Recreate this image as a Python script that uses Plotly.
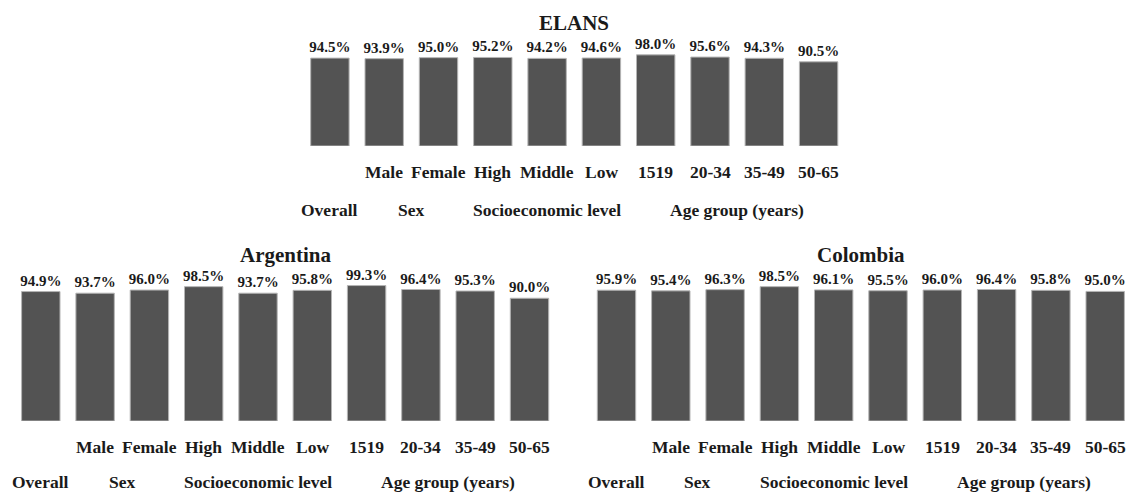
import plotly.graph_objects as go

# ---------------- data ----------------
categories = ["Overall", "Male", "Female", "High", "Middle", "Low",
              "1519", "20-34", "35-49", "50-65"]
tick_labels = ["", "Male", "Female", "High", "Middle", "Low",
               "1519", "20-34", "35-49", "50-65"]
group_names = ["Overall", "Sex", "Socioeconomic level", "Age group (years)"]
group_sizes = [1, 2, 3, 4]

panel_titles = ["ELANS", "Argentina", "Colombia"]
elans = [94.5, 93.9, 95.0, 95.2, 94.2, 94.6, 98.0, 95.6, 94.3, 90.5]
argentina = [94.9, 93.7, 96.0, 98.5, 93.7, 95.8, 99.3, 96.4, 95.3, 90.0]
colombia = [95.9, 95.4, 96.3, 98.5, 96.1, 95.5, 96.0, 96.4, 95.8, 95.0]
series = [elans, argentina, colombia]

# ---------------- layout helpers ----------------
W, H = 1127, 493
FONT = "Liberation Serif"
TXT = "#1a1a1a"

def px_x(p):
    return p / W

def px_y(p):
    return (H - p) / H

# panel geometry in page pixels
panels = [
    dict(xl=302.75, xr=845.75, yb=146.0, k=0.93, title_y=23, r1=171.7, r2=210.0),
    dict(xl=13.65, xr=556.65, yb=421.0, k=1.364, title_y=255, r1=446.7, r2=481.5),
    dict(xl=589.35, xr=1132.35, yb=421.0, k=1.364, title_y=255, r1=446.7, r2=481.5),
]

idx = list(range(len(categories)))
fig = go.Figure()
annotations = []

for i, (vals, p, ttl) in enumerate(zip(series, panels, panel_titles)):
    n = i + 1
    xa = "x" if n == 1 else f"x{n}"
    ya = "y" if n == 1 else f"y{n}"
    fig.add_trace(go.Bar(
        x=idx, y=vals, xaxis=xa, yaxis=ya,
        marker=dict(color="#535353", line=dict(color="#b4b4b4", width=1)),
        text=[f"{v:.1f}%" for v in vals],
        textposition="outside",
        textfont=dict(family=FONT, size=15, color=TXT, weight="bold"),
        constraintext="none",
        cliponaxis=False,
        showlegend=False,
        hoverinfo="skip",
    ))
    xr = min(p["xr"], W)
    cat_w = (p["xr"] - p["xl"]) / len(categories)
    xmax = 9.5 - (p["xr"] - xr) / cat_w
    top_px = p["yb"] - 100 * p["k"]
    xkey = "xaxis" if n == 1 else f"xaxis{n}"
    ykey = "yaxis" if n == 1 else f"yaxis{n}"
    fig.update_layout(**{
        xkey: dict(domain=[px_x(p["xl"]), px_x(xr)], range=[-0.5, xmax],
                   anchor=ya, visible=False, fixedrange=True),
        ykey: dict(domain=[px_y(p["yb"]), px_y(top_px)], range=[0, 100],
                   anchor=xa, visible=False, fixedrange=True),
    })
    annotations.append(dict(
        text=f"<b>{ttl}</b>", xref=xa, yref="paper", x=4.5, y=px_y(p["title_y"]),
        xanchor="center", yanchor="middle", showarrow=False,
        font=dict(family=FONT, size=21, color=TXT)))
    for j, lab in enumerate(tick_labels):
        if lab:
            annotations.append(dict(
                text=f"<b>{lab}</b>", xref=xa, yref="paper", x=j, y=px_y(p["r1"]),
                xanchor="center", yanchor="middle", showarrow=False,
                font=dict(family=FONT, size=17.5, color=TXT)))
    start = 0
    for g, size in zip(group_names, group_sizes):
        centre = start + (size - 1) / 2
        annotations.append(dict(
            text=f"<b>{g}</b>", xref=xa, yref="paper", x=centre, y=px_y(p["r2"]),
            xanchor="center", yanchor="middle", showarrow=False,
            font=dict(family=FONT, size=17.5, color=TXT)))
        start += size

fig.update_layout(
    width=W, height=H,
    margin=dict(l=0, r=0, t=0, b=0),
    paper_bgcolor="white", plot_bgcolor="white",
    bargap=0.293,
    annotations=annotations,
    font=dict(family=FONT, color=TXT),
)

fig.write_html(
    "out.html",
    config={"displayModeBar": False, "staticPlot": True},
    post_script="document.body.style.margin='0px';document.body.style.overflow='hidden';",
)
